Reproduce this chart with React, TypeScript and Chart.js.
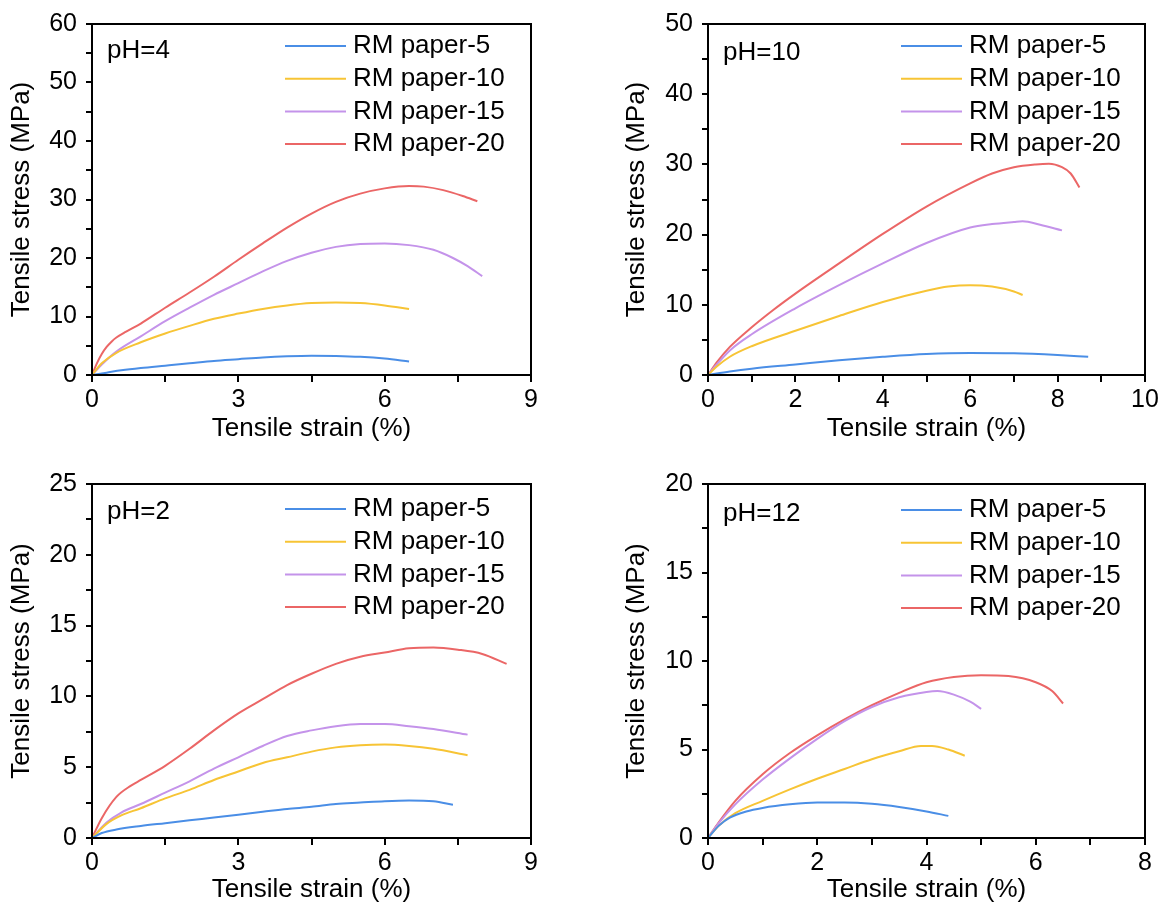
import React, { useEffect, useRef } from 'react';
import { Chart, registerables } from 'chart.js';

Chart.register(...registerables);

const FONT = '"Liberation Sans", Arial, Helvetica, sans-serif';

const seriesNames = ['RM paper-5', 'RM paper-10', 'RM paper-15', 'RM paper-20'];
const seriesColors = ['#4a8ee6', '#f7c435', '#c493ea', '#eb6666'];

// ---------- pH = 4 ----------
const pH4Strain5 = [0, 0.3, 0.6, 1.0, 1.5, 2.0, 2.5, 3.0, 3.5, 4.0, 4.5, 5.0, 5.5, 6.0, 6.5];
const pH4Stress5 = [0, 0.4, 0.8, 1.2, 1.6, 2.0, 2.4, 2.7, 3.0, 3.2, 3.3, 3.25, 3.1, 2.8, 2.3];
const pH4Strain10 = [0, 0.2, 0.5, 1.0, 1.5, 2.0, 2.5, 3.0, 3.5, 4.0, 4.5, 5.0, 5.5, 6.0, 6.5];
const pH4Stress10 = [0, 2.0, 3.8, 5.6, 7.1, 8.4, 9.6, 10.5, 11.3, 11.9, 12.3, 12.4, 12.3, 11.9, 11.3];
const pH4Strain15 = [0, 0.2, 0.5, 1.0, 1.5, 2.0, 2.5, 3.0, 3.5, 4.0, 4.5, 5.0, 5.5, 6.0, 6.5, 7.0, 7.4, 7.7, 8.0];
const pH4Stress15 = [0, 1.8, 4.0, 6.6, 9.2, 11.5, 13.7, 15.7, 17.7, 19.5, 20.9, 21.9, 22.4, 22.5, 22.2, 21.4, 20.0, 18.6, 16.9];
const pH4Strain20 = [0, 0.1, 0.2, 0.3, 0.4, 0.5, 0.7, 1.0, 1.5, 2.0, 2.5, 3.0, 3.5, 4.0, 4.5, 5.0, 5.5, 6.0, 6.5, 6.8, 7.2, 7.6, 7.9];
const pH4Stress20 = [0, 2.0, 3.6, 4.8, 5.7, 6.4, 7.4, 8.8, 11.5, 14.1, 16.8, 19.7, 22.5, 25.2, 27.6, 29.6, 31.0, 31.9, 32.3, 32.2, 31.6, 30.6, 29.7];

// ---------- pH = 10 ----------
const pH10Strain5 = [0, 0.5, 1.0, 2.0, 3.0, 4.0, 5.0, 6.0, 7.0, 8.0, 8.7];
const pH10Stress5 = [0, 0.5, 0.9, 1.5, 2.1, 2.6, 3.0, 3.15, 3.1, 2.85, 2.6];
const pH10Strain10 = [0, 0.2, 0.5, 1.0, 2.0, 3.0, 4.0, 5.0, 5.5, 6.0, 6.5, 7.0, 7.2];
const pH10Stress10 = [0, 1.2, 2.6, 4.1, 6.3, 8.4, 10.4, 12.0, 12.6, 12.8, 12.6, 11.9, 11.4];
const pH10Strain15 = [0, 0.2, 0.5, 1.0, 2.0, 3.0, 4.0, 5.0, 6.0, 6.5, 7.0, 7.2, 7.6, 8.1];
const pH10Stress15 = [0, 1.5, 3.5, 5.8, 9.5, 12.8, 15.9, 18.8, 21.0, 21.5, 21.8, 21.9, 21.4, 20.6];
const pH10Strain20 = [0, 0.2, 0.5, 1.0, 1.5, 2.0, 3.0, 4.0, 5.0, 6.0, 6.5, 7.0, 7.5, 7.8, 8.1, 8.3, 8.5];
const pH10Stress20 = [0, 1.8, 4.0, 6.8, 9.3, 11.6, 15.9, 20.1, 24.0, 27.3, 28.7, 29.6, 30.0, 30.1, 29.6, 28.7, 26.7];

// ---------- pH = 2 ----------
const pH2Strain5 = [0, 0.2, 0.5, 1.0, 1.5, 2.0, 2.5, 3.0, 3.5, 4.0, 4.5, 5.0, 5.5, 6.0, 6.5, 7.0, 7.4];
const pH2Stress5 = [0, 0.35, 0.6, 0.85, 1.05, 1.25, 1.45, 1.65, 1.85, 2.05, 2.2, 2.4, 2.5, 2.6, 2.65, 2.6, 2.35];
const pH2Strain10 = [0, 0.3, 0.6, 1.0, 1.5, 2.0, 2.5, 3.0, 3.5, 4.0, 4.5, 5.0, 5.5, 6.0, 6.5, 7.0, 7.7];
const pH2Stress10 = [0, 1.0, 1.6, 2.1, 2.8, 3.4, 4.1, 4.7, 5.3, 5.7, 6.1, 6.4, 6.55, 6.6, 6.5, 6.3, 5.85];
const pH2Strain15 = [0, 0.3, 0.6, 1.0, 1.5, 2.0, 2.5, 3.0, 3.5, 4.0, 4.5, 5.0, 5.5, 6.0, 6.5, 7.0, 7.7];
const pH2Stress15 = [0, 1.1, 1.8, 2.4, 3.2, 4.0, 4.9, 5.7, 6.5, 7.2, 7.6, 7.9, 8.05, 8.05, 7.9, 7.7, 7.3];
const pH2Strain20 = [0, 0.2, 0.5, 0.8, 1.0, 1.5, 2.0, 2.5, 3.0, 3.5, 4.0, 4.5, 5.0, 5.5, 6.0, 6.5, 7.0, 7.5, 8.0, 8.5];
const pH2Stress20 = [0, 1.4, 2.9, 3.7, 4.1, 5.1, 6.3, 7.6, 8.8, 9.8, 10.8, 11.6, 12.3, 12.8, 13.1, 13.4, 13.45, 13.3, 13.0, 12.3];

// ---------- pH = 12 ----------
const pH12Strain5 = [0, 0.2, 0.4, 0.7, 1.0, 1.5, 2.0, 2.5, 3.0, 3.5, 4.0, 4.4];
const pH12Stress5 = [0, 0.7, 1.15, 1.5, 1.7, 1.9, 2.0, 2.0, 1.93, 1.75, 1.5, 1.25];
const pH12Strain10 = [0, 0.2, 0.5, 1.0, 1.5, 2.0, 2.5, 3.0, 3.5, 3.9, 4.1, 4.4, 4.7];
const pH12Stress10 = [0, 0.7, 1.4, 2.1, 2.75, 3.35, 3.9, 4.45, 4.9, 5.2, 5.2, 5.0, 4.65];
const pH12Strain15 = [0, 0.2, 0.5, 1.0, 1.5, 2.0, 2.5, 3.0, 3.5, 4.0, 4.2, 4.5, 4.8, 5.0];
const pH12Stress15 = [0, 0.85, 1.9, 3.3, 4.5, 5.6, 6.6, 7.4, 7.95, 8.25, 8.3, 8.1, 7.7, 7.3];
const pH12Strain20 = [0, 0.2, 0.5, 1.0, 1.5, 2.0, 2.5, 3.0, 3.5, 4.0, 4.5, 5.0, 5.5, 6.0, 6.3, 6.5];
const pH12Stress20 = [0, 0.9, 2.1, 3.6, 4.8, 5.8, 6.7, 7.5, 8.2, 8.8, 9.1, 9.2, 9.15, 8.8, 8.3, 7.6];

type Panel = {
  label: string;
  strains: number[][];
  stresses: number[][];
  xMax: number; xStep: number; xLabelStep: number;
  yMax: number; yStep: number; yLabelStep: number;
  left: number; top: number; width: number; height: number;
  area: { l: number; r: number; t: number; b: number };
  phDy: number; legDy: number;
};

const panels: Panel[] = [
  {
    label: 'pH=4',
    strains: [pH4Strain5, pH4Strain10, pH4Strain15, pH4Strain20],
    stresses: [pH4Stress5, pH4Stress10, pH4Stress15, pH4Stress20],
    xMax: 9, xStep: 1.5, xLabelStep: 3, yMax: 60, yStep: 5, yLabelStep: 10,
    left: 0, top: 0, width: 560, height: 444,
    area: { l: 92, r: 531, t: 23, b: 375 }, phDy: 27, legDy: 22,
  },
  {
    label: 'pH=10',
    strains: [pH10Strain5, pH10Strain10, pH10Strain15, pH10Strain20],
    stresses: [pH10Stress5, pH10Stress10, pH10Stress15, pH10Stress20],
    xMax: 10, xStep: 1, xLabelStep: 2, yMax: 50, yStep: 5, yLabelStep: 10,
    left: 615, top: 0, width: 549, height: 444,
    area: { l: 708, r: 1145, t: 23, b: 375 }, phDy: 29, legDy: 22,
  },
  {
    label: 'pH=2',
    strains: [pH2Strain5, pH2Strain10, pH2Strain15, pH2Strain20],
    stresses: [pH2Stress5, pH2Stress10, pH2Stress15, pH2Stress20],
    xMax: 9, xStep: 1.5, xLabelStep: 3, yMax: 25, yStep: 2.5, yLabelStep: 5,
    left: 0, top: 460, width: 560, height: 445,
    area: { l: 92, r: 531, t: 484, b: 838 }, phDy: 28, legDy: 25,
  },
  {
    label: 'pH=12',
    strains: [pH12Strain5, pH12Strain10, pH12Strain15, pH12Strain20],
    stresses: [pH12Stress5, pH12Stress10, pH12Stress15, pH12Stress20],
    xMax: 8, xStep: 1, xLabelStep: 2, yMax: 20, yStep: 2.5, yLabelStep: 5,
    left: 615, top: 460, width: 549, height: 445,
    area: { l: 708, r: 1145, t: 484, b: 838 }, phDy: 30, legDy: 26,
  },
];

const isMultiple = (v: number, step: number) => Math.abs(v / step - Math.round(v / step)) < 1e-6;

function PanelChart({ p }: { p: Panel }) {
  const ref = useRef<HTMLCanvasElement>(null);
  useEffect(() => {
    if (!ref.current) return;
    const yW = p.area.l - p.left;
    const xH = p.top + p.height - p.area.b;
    const tickFont = { family: FONT, size: 25 };
    const titleFont = { family: FONT, size: 26 };

    const frame = {
      id: 'frame',
      afterDraw(chart: any) {
        const { ctx, chartArea: a } = chart;
        ctx.save();
        ctx.strokeStyle = '#000';
        ctx.lineWidth = 2;
        ctx.strokeRect(a.left, a.top, a.right - a.left, a.bottom - a.top);
        ctx.restore();
      },
    };

    const annot = {
      id: 'annot',
      afterDatasetsDraw(chart: any) {
        const { ctx, chartArea: a } = chart;
        ctx.save();
        ctx.font = `26px ${FONT}`;
        ctx.fillStyle = '#000';
        ctx.textBaseline = 'middle';
        ctx.textAlign = 'left';
        ctx.fillText(p.label, a.left + 15, a.top + p.phDy);
        seriesNames.forEach((name, i) => {
          const y = a.top + p.legDy + i * 32.7;
          ctx.strokeStyle = seriesColors[i];
          ctx.lineWidth = 2;
          ctx.beginPath();
          ctx.moveTo(a.left + 193, y);
          ctx.lineTo(a.left + 254, y);
          ctx.stroke();
          ctx.fillStyle = '#000';
          ctx.fillText(name, a.left + 261, y);
        });
        ctx.restore();
      },
    };

    const chart = new Chart(ref.current, {
      type: 'line',
      data: {
        datasets: seriesNames.map((name, i) => ({
          label: name,
          data: p.strains[i].map((x, j) => ({ x, y: p.stresses[i][j] })),
          borderColor: seriesColors[i],
          backgroundColor: seriesColors[i],
          borderWidth: 2,
          pointRadius: 0,
          fill: false,
          cubicInterpolationMode: 'monotone' as const,
        })),
      },
      options: {
        animation: false,
        responsive: false,
        maintainAspectRatio: false,
        devicePixelRatio: 1,
        layout: {
          padding: { left: 0, top: p.area.t - p.top, right: p.left + p.width - p.area.r, bottom: 0 },
        },
        plugins: { legend: { display: false }, tooltip: { enabled: false } },
        scales: {
          x: {
            type: 'linear',
            min: 0,
            max: p.xMax,
            ticks: {
              stepSize: p.xStep,
              autoSkip: false,
              maxRotation: 0,
              color: '#000',
              font: tickFont,
              padding: 3,
              callback: (v: any) => (isMultiple(Number(v), p.xLabelStep) ? String(v) : ''),
            },
            grid: { drawOnChartArea: false, drawTicks: true, tickLength: 7, color: '#000', lineWidth: 2 },
            border: { color: '#000', width: 2 },
            title: { display: true, text: 'Tensile strain (%)', color: '#000', font: titleFont, padding: { top: 0, bottom: 0 } },
            afterFit: (s: any) => { s.height = xH; },
          },
          y: {
            type: 'linear',
            min: 0,
            max: p.yMax,
            ticks: {
              stepSize: p.yStep,
              autoSkip: false,
              color: '#000',
              font: tickFont,
              padding: 9,
              callback: (v: any) => (isMultiple(Number(v), p.yLabelStep) ? String(v) : ''),
            },
            grid: { drawOnChartArea: false, drawTicks: true, tickLength: 6, color: '#000', lineWidth: 2 },
            border: { color: '#000', width: 2 },
            title: { display: true, text: 'Tensile stress (MPa)', color: '#000', font: titleFont, padding: { top: 6, bottom: 0 } },
            afterFit: (s: any) => { s.width = yW; },
          },
        },
      },
      plugins: [frame, annot],
    } as any);
    return () => chart.destroy();
  }, [p]);
  return (
    <canvas
      ref={ref}
      width={p.width}
      height={p.height}
      style={{ position: 'absolute', left: p.left, top: p.top, width: p.width, height: p.height }}
    />
  );
}

export default function App() {
  return (
    <div style={{ position: 'absolute', left: 0, top: 0, width: 1164, height: 905, background: '#fff' }}>
      {panels.map((p) => (
        <PanelChart key={p.label} p={p} />
      ))}
    </div>
  );
}
